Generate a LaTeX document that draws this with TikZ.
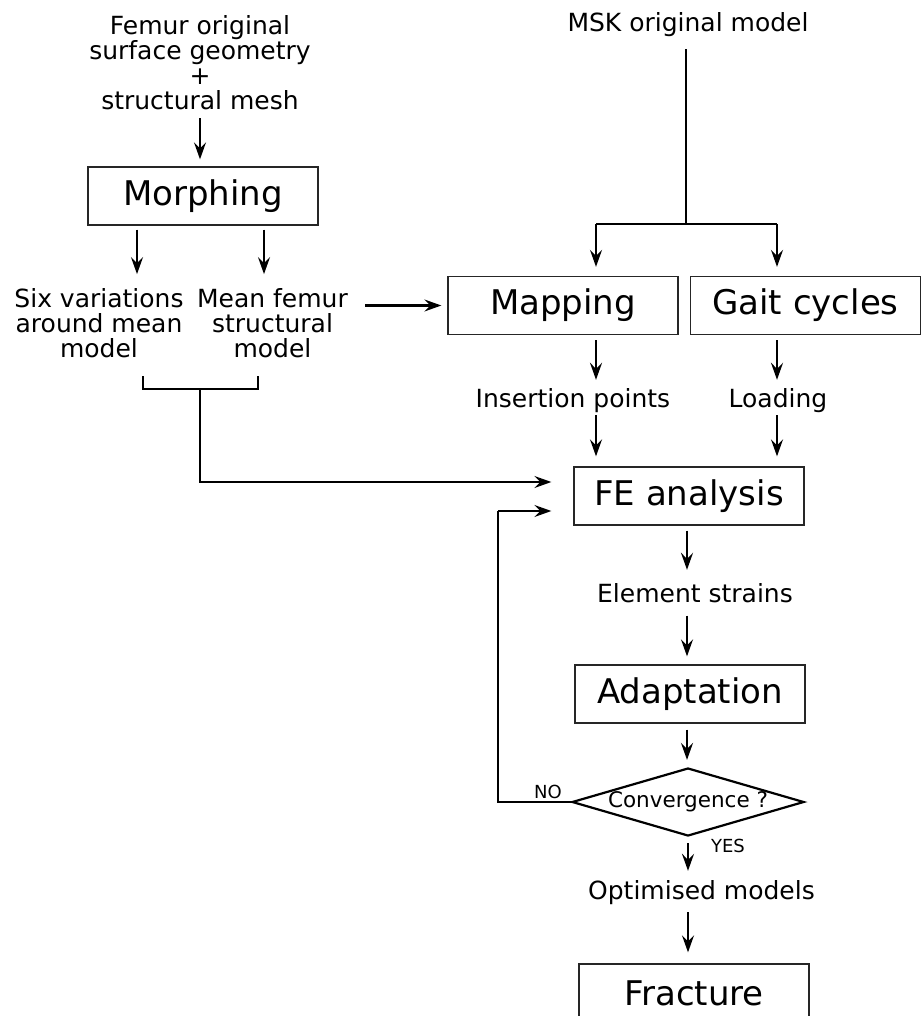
\documentclass[tikz,border=0pt]{standalone}
\usepackage{fontspec}
\setmainfont{DejaVu Sans}
\usetikzlibrary{arrows.meta,shapes.geometric,calc}

\begin{document}
\begin{tikzpicture}[x=1pt, y=1pt]
    \tikzset{
        box/.style = {
            draw = black!85,
            line width = 1.3pt,
            minimum width = 230pt,
            minimum height = 58pt,
            inner sep = 0pt,
            font = \fontsize{34}{34}\selectfont
        },
        lbl/.style = {
            align = center,
            inner sep = 0pt,
            font = \fontsize{25}{25}\selectfont
        },
        decision/.style = {
            diamond,
            draw = black,
            line width = 2.2pt,
            aspect = 3.4,
            minimum width = 232pt,
            minimum height = 68pt,
            inner sep = 0pt,
            font = \fontsize{21.5}{21.5}\selectfont
        },
        tag/.style = {
            inner sep = 0pt,
            anchor = base,
            font = \fontsize{18}{18}\selectfont
        },
        line/.style = {
            line width = 2.2pt
        },
        arr/.style = {
            line width = 2.2pt,
            -{Stealth[length=17pt, width=12pt, inset=6pt]}
        }
    }
    \useasboundingbox (0,0) rectangle (921,-1016);

    % left column
    \node[lbl]   (femur)   at (200,-63)    {Femur original\\surface geometry\\+\\structural mesh};
    \node[box]   (morph)   at (203,-196)   {Morphing};
    \node[lbl]   (six)     at (99,-323)    {Six variations\\around mean\\model};
    \node[lbl]   (mean)    at (272.5,-323) {Mean femur\\structural\\model};

    % right column
    \node[lbl, anchor=base] (msk)  at (688,-32)  {MSK original model};
    \node[box]   (mapping) at (563,-305.5) {Mapping};
    \node[box]   (gait)    at (805.5,-305.5) {Gait cycles};
    \node[lbl, anchor=base] (ins)  at (573,-407) {Insertion points};
    \node[lbl, anchor=base] (load) at (778,-407) {Loading};
    \node[box]   (fe)      at (689,-496)   {FE analysis};
    \node[lbl, anchor=base] (strain) at (695,-602) {Element strains};
    \node[box]   (adapt)   at (690,-694)   {Adaptation};
    \node[decision] (conv) at (688,-802)   {Convergence ?};
    \node[tag]   (no)      at (548,-798)   {NO};
    \node[tag]   (yes)     at (728,-852)   {YES};
    \node[lbl, anchor=base] (optim) at (701.5,-899) {Optimised models};
    \node[box]   (frac)    at (694,-993)   {Fracture};

    \coordinate (split) at (686,-224);
    \coordinate (bl)    at (596,-224);
    \coordinate (br)    at (777,-224);
    \coordinate (brl)   at (143,-376);
    \coordinate (brr)   at (258,-376);
    \coordinate (brc)   at (200,-389);
    \coordinate (loop)  at (498,-511);

    % left column connectors
    \draw[arr, shorten <=8pt, shorten >=7pt] (femur.south) -- (femur.south |- morph.north);
    \draw[arr, shorten <=4pt, shorten >=14pt] ([xshift=-66pt]morph.south) -- ([xshift=-66pt]morph.south |- six.north);
    \draw[arr, shorten <=4pt, shorten >=14pt] ([xshift=61pt]morph.south) -- ([xshift=61pt]morph.south |- mean.north);
    \draw[arr, shorten <=17pt, shorten >=6pt] (mean.east |- mapping.west) -- (mapping.west);
    \draw[line] (brl) |- (brc) -| (brr);
    \draw[arr, shorten >=22pt] (brc) |- ([yshift=14pt]fe.west);

    % right column connectors
    \draw[line, shorten <=12pt] (split |- msk.south) -- (split);
    \draw[line] (bl) -- (br);
    \draw[arr, shorten >=9pt] (bl) -- (bl |- mapping.north);
    \draw[arr, shorten >=9pt] (br) -- (br |- gait.north);
    \draw[arr, shorten <=5pt, shorten >=8pt] (bl |- mapping.south) -- (bl |- ins.north);
    \draw[arr, shorten <=5pt, shorten >=8pt] (br |- gait.south) -- (br |- load.north);
    \draw[arr, shorten <=3pt, shorten >=10pt] (bl |- ins.south) -- (bl |- fe.north);
    \draw[arr, shorten <=3pt, shorten >=10pt] (br |- load.south) -- (br |- fe.north);
    \draw[arr, shorten <=5pt, shorten >=13pt] ([xshift=-2pt]fe.south) -- ([xshift=-2pt]fe.south |- strain.north);
    \draw[arr, shorten <=13pt, shorten >=8pt] ([xshift=-2pt]fe.south |- strain.south) -- ([xshift=-2pt]fe.south |- adapt.north);
    \draw[arr, shorten <=6pt, shorten >=7pt] ([xshift=-3pt]adapt.south) -- ([xshift=-3pt]adapt.south |- conv.north);
    \draw[line] (conv.west) -| (loop);
    \draw[arr, shorten >=22pt] (loop) -- ([yshift=-15pt]fe.west);
    \draw[arr, shorten <=6pt, shorten >=9pt] (conv.south) -- (conv.south |- optim.north);
    \draw[arr, shorten <=8pt, shorten >=11pt] (conv.south |- optim.south) -- (conv.south |- frac.north);

\end{tikzpicture}
\end{document}
